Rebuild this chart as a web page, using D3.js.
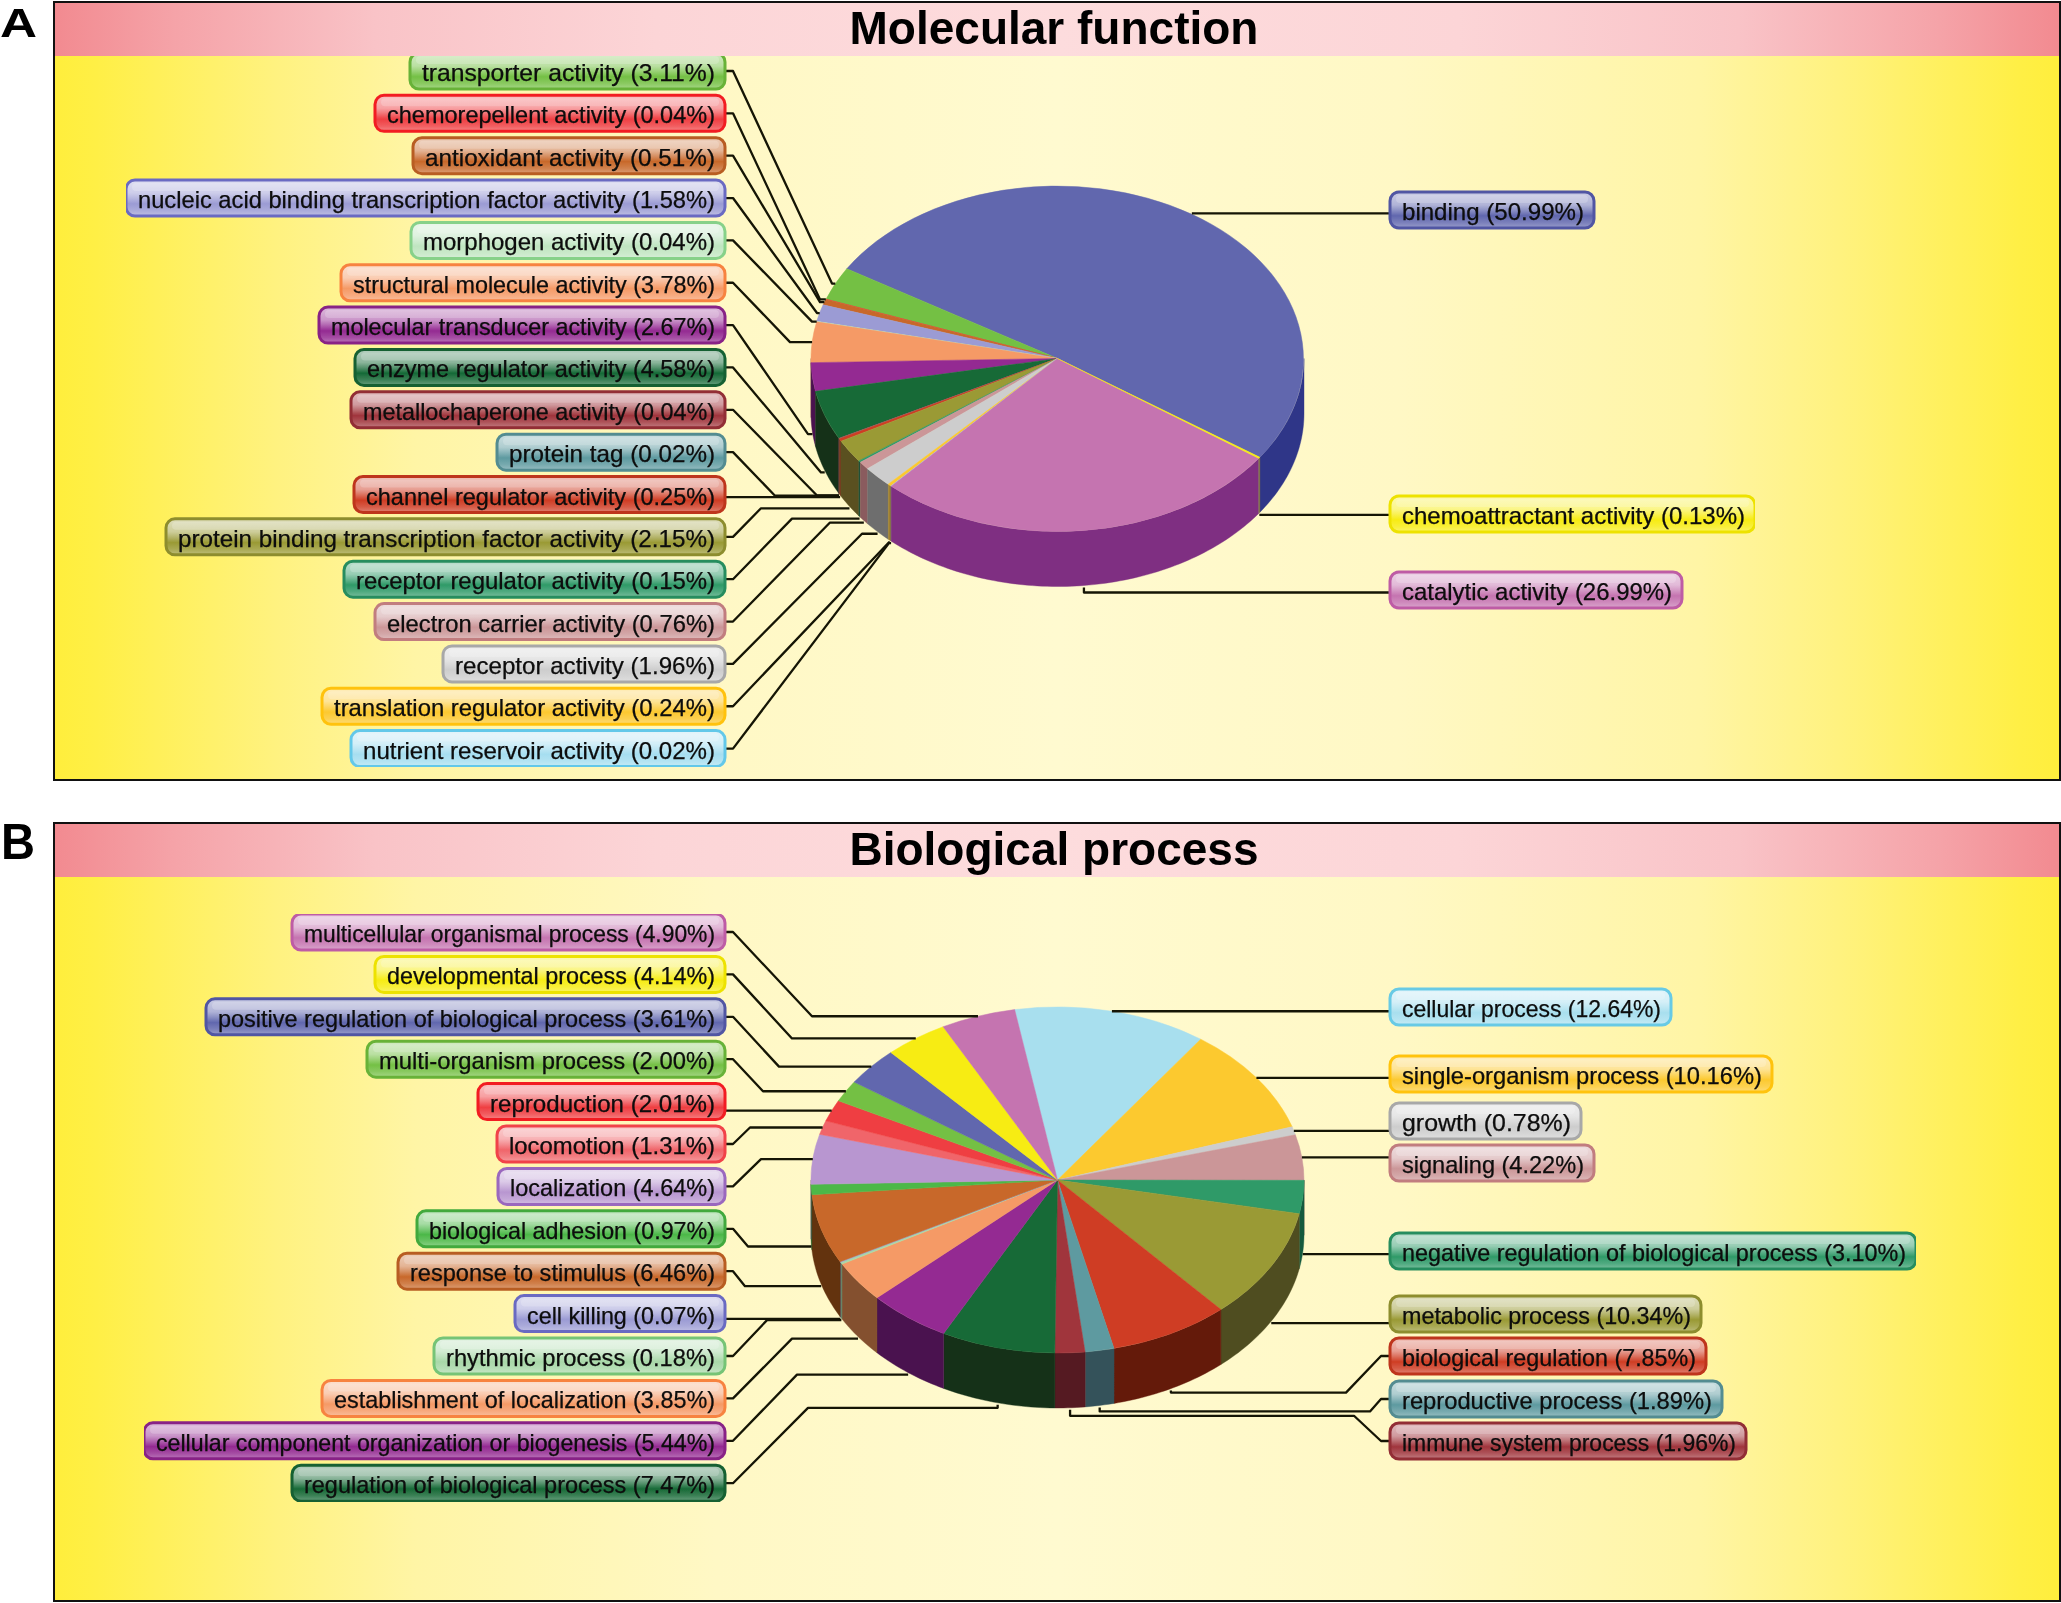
<!DOCTYPE html>
<html><head><meta charset="utf-8">
<script src="https://d3js.org/d3.v7.min.js"></script>
<style>html,body{margin:0;padding:0;background:#fff}svg{display:block}</style>
</head><body><svg id="c" width="2061" height="1603"></svg>
<script>
const mfCategories=["binding","transporter activity","chemorepellent activity","antioxidant activity","nucleic acid binding transcription factor activity","morphogen activity","structural molecule activity","molecular transducer activity","enzyme regulator activity","metallochaperone activity","protein tag","channel regulator activity","protein binding transcription factor activity","receptor regulator activity","electron carrier activity","receptor activity","translation regulator activity","nutrient reservoir activity","catalytic activity","chemoattractant activity"];
const mfValues=[50.99,3.11,0.04,0.51,1.58,0.04,3.78,2.67,4.58,0.04,0.02,0.25,2.15,0.15,0.76,1.96,0.24,0.02,26.99,0.13];
const mfColors=["#6167ae","#74c044","#ef3e42","#c8682a","#9b9bd4","#bfe5c0","#f59a66","#942a92","#176a37","#a0353c","#5e9aa0","#cf3d24","#9a9a35","#2f9a68","#cb9698","#cdcdcd","#fcc82f","#a6def0","#c574b0","#f7ec13"];
const mfWalls=["#2f3688","#3c6020","#772022","#7a3a20","#4e4e6a","#606e60","#84502f","#4a124f","#153118","#551a22","#34525a","#7a3a20","#5a5020","#185034","#8a5b5e","#6e6e6e","#a08030","#536f78","#7f2f82","#7c6e4a"];
const bpCategories=["cellular process","single-organism process","growth","signaling","negative regulation of biological process","metabolic process","biological regulation","reproductive process","immune system process","regulation of biological process","cellular component organization or biogenesis","establishment of localization","rhythmic process","cell killing","response to stimulus","biological adhesion","localization","locomotion","reproduction","multi-organism process","positive regulation of biological process","developmental process","multicellular organismal process"];
const bpValues=[12.64,10.16,0.78,4.22,3.10,10.34,7.85,1.89,1.96,7.47,5.44,3.85,0.18,0.07,6.46,0.97,4.64,1.31,2.01,2.00,3.61,4.14,4.90];
const bpColors=["#a8dfee","#fcc92f","#cdcdcd","#cb9698","#2f9a68","#9a9a35","#cf3d24","#5e9aa0","#a0353c","#176a37","#942a92","#f59a66","#a8d8a8","#9b9bd4","#c8682a","#4cb848","#b896d0","#f0656a","#ef3e42","#74c044","#6167ae","#f7ec13","#c574b0"];
const bpWalls=["#54707a","#7e6518","#666666","#654b4c","#155a3e","#4f4d20","#641a0a","#34525a","#551a22","#153118","#4a124f","#84502f","#6a8a6a","#4e4e6a","#63330e","#265c24","#5c4b68","#783234","#772022","#3c6020","#2f3688","#7c7609","#623858"];

// layout
const mfLeftBends=[832,820,820,817,812,790,808,821,817,775,null,761,792,830,862,889,889];
const bpLeftBends=[812,792,779,763,null,750,761,748,745,null,767,792,797,808];
const mfLeftWidths=[315,350,312,599,314,384,406,370,374,228,371,559,381,350,282,403,374];
const bpLeftWidths=[433,350,519,358,247,228,227,308,327,210,291,403,581,433];
const mfRightWidths=[204,365,292];
const bpRightWidths=[281,382,191,204,526,311,316,332,356];
const mfRightRows=[210,514,590];
const bpRightRows=[1007,1074,1121,1163,1251,1314,1356,1399,1441];
const mfRightBends=[null,null,null];
const bpRightBends=[null,null,null,null,null,null,1346,1370,1354];
const mfDrops={"catalytic activity":5};
const bpDrops={"regulation of biological process":3,"biological regulation":2,"reproductive process":4,"immune system process":6};

const panels=[
 {title:"Molecular function",letter:"A",letterSize:41,letterX:0,letterWidth:37,top:2,bottom:780,band:56,cy:358.5,cats:mfCategories,vals:mfValues,cols:mfColors,walls:mfWalls,
  start:34.8,dir:-1,leftRow0:71,leftPitch:42.35,leftBends:mfLeftBends,leftWidths:mfLeftWidths,rightWidths:mfRightWidths,rightRows:mfRightRows,rightBends:mfRightBends,drops:mfDrops,letterY:37},
 {title:"Biological process",letter:"B",letterSize:50,letterX:1,letterWidth:34,top:823,bottom:1601,band:877,cy:1180,cats:bpCategories,vals:bpValues,cols:bpColors,walls:bpWalls,
  start:-100,dir:1,leftRow0:932,leftPitch:42.4,leftBends:bpLeftBends,leftWidths:bpLeftWidths,rightWidths:bpRightWidths,rightRows:bpRightRows,rightBends:bpRightBends,drops:bpDrops,letterY:859}
];
const frameL=54,frameR=2060,cx=1057.5,rx=246.5,ry=173,depth=55,anchorDepth=57;
const boxH=36,boxLeftEdge=725,boxRightEdge=1390,stubL=733,stubR=1381;
const fontFamily='"Liberation Sans",Arial,sans-serif';
const svg=d3.select("#c");
const defs=svg.append("defs");
defs.append("filter").attr("id","soft").attr("x",0).attr("y",0).attr("width",1).attr("height",1)
 .append("feGaussianBlur").attr("stdDeviation",.4);
function hGrad(id,stops){const g=defs.append("linearGradient").attr("id",id).attr("x1",0).attr("x2",1).attr("y1",0).attr("y2",0);
 stops.forEach(s=>g.append("stop").attr("offset",s[0]).attr("stop-color",s[1]));}
hGrad("bgG",[[0,"#ffee3c"],[.02,"#ffef45"],[.11,"#fff27f"],[.18,"#fff5a5"],[.33,"#fff8c5"],[.5,"#fffad0"],[.67,"#fff8c5"],[.82,"#fff5a5"],[.89,"#fff27f"],[.98,"#ffef45"],[1,"#ffee3c"]]);
hGrad("bandG",[[0,"#f28a90"],[.06,"#f5a3a8"],[.16,"#f9c3c7"],[.3,"#fcd5d7"],[.5,"#fddcdd"],[.7,"#fcd5d7"],[.84,"#f9c3c7"],[.94,"#f5a3a8"],[1,"#f28a90"]]);
const white=(c,t)=>d3.interpolateRgb(c,"#fff")(t);
const borderOf=c=>{const h=d3.hsl(c);h.s=Math.min(1,h.s*1.05);h.l=h.l*(h.l>.7?.82:.9);return h.formatRgb();};
const rad=d=>d*Math.PI/180;

panels.forEach((p,pi)=>{
 const g=svg.append("g");
 g.append("rect").attr("x",frameL).attr("y",p.top).attr("width",frameR-frameL).attr("height",p.bottom-p.top).attr("fill","url(#bgG)");
 const startD3=rad(p.start+90);
 const pie=d3.pie().sort(null).startAngle(startD3).endAngle(startD3+p.dir*2*Math.PI);
 const arcs=pie(p.vals).map((a,i)=>({...a,i,name:p.cats[i],color:p.cols[i],wall:p.walls[i]}));
 const wallG=g.append("g");
 const line=d3.line();
 arcs.forEach(a=>{
  let t0=Math.min(a.startAngle,a.endAngle)-Math.PI/2, t1=Math.max(a.startAngle,a.endAngle)-Math.PI/2;
  [-2,0,2].forEach(k=>{
   const lo=Math.max(t0,k*Math.PI),hi=Math.min(t1,k*Math.PI+Math.PI);
   if(hi<=lo)return;
   const n=Math.max(2,Math.ceil((hi-lo)/0.02));
   const ts=d3.range(n+1).map(j=>lo+(hi-lo)*j/n);
   const pts=ts.map(t=>[cx+rx*Math.cos(t),p.cy+ry*Math.sin(t)]).concat(ts.slice().reverse().map(t=>[cx+rx*Math.cos(t),p.cy+ry*Math.sin(t)+depth]));
   wallG.append("path").attr("d",line(pts)+"Z").attr("fill",a.wall).attr("stroke",a.wall).attr("stroke-width",.4);
  });
 });
 const arc=d3.arc().innerRadius(0).outerRadius(1);
 g.append("g").attr("transform",`translate(${cx},${p.cy}) scale(${rx},${ry})`)
  .selectAll("path").data(arcs).join("path").attr("d",arc).attr("fill",d=>d.color)
  .attr("stroke",d=>d.color).attr("stroke-width",.5).attr("vector-effect","non-scaling-stroke");
 arcs.forEach(a=>{
  const t=(a.startAngle+a.endAngle)/2-Math.PI/2;
  a.theta=t;a.cos=Math.cos(t);a.sin=Math.sin(t);
  a.ax=cx+rx*a.cos;a.ay=p.cy+ry*a.sin+(a.sin>0?anchorDepth:0);
  a.ccwFromTop=(((-Math.PI/2-t)%(2*Math.PI))+2*Math.PI)%(2*Math.PI);
  a.cwFromTop=(((t+Math.PI/2)%(2*Math.PI))+2*Math.PI)%(2*Math.PI);
 });
 const left=arcs.filter(a=>a.cos<0).sort((a,b)=>a.ccwFromTop-b.ccwFromTop);
 const right=arcs.filter(a=>a.cos>=0).sort((a,b)=>a.cwFromTop-b.cwFromTop);
 left.forEach((a,i)=>{a.side="L";a.row=p.leftRow0+p.leftPitch*i;a.bend=p.leftBends[i];a.w=p.leftWidths[i];});
 right.forEach((a,i)=>{a.side="R";a.row=p.rightRows[i];a.bend=p.rightBends[i];a.w=p.rightWidths[i];});
 const labelled=left.concat(right);
 const leadG=g.append("g").attr("fill","none").attr("stroke","#151505").attr("stroke-width",2.3).attr("stroke-linejoin","round");
 labelled.forEach(a=>{
  const edge=a.side==="L"?boxLeftEdge:boxRightEdge, stub=a.side==="L"?stubL:stubR;
  const hy=a.ay+(p.drops[a.name]||0);
  const pts=a.bend==null?[[a.ax,a.ay],[a.ax,hy],[edge,hy]]
   :[[a.ax,a.ay],[a.ax,hy],[a.bend,hy],[stub,a.row],[edge,a.row]];
  leadG.append("path").attr("d",line(pts));
 });
 const fmt=d3.format(".2f");
 const labG=g.append("g").attr("filter","url(#soft)");
 labelled.forEach(a=>{
  const gid=`lab${pi}_${a.i}`;
  const lg=defs.append("linearGradient").attr("id",gid).attr("x1",0).attr("x2",0).attr("y1",0).attr("y2",1);
  [[0,white(a.color,.68)],[.36,white(a.color,.5)],[.5,white(a.color,.28)],[.66,a.color],[.84,white(a.color,.15)],[1,white(a.color,.35)]]
   .forEach(s=>lg.append("stop").attr("offset",s[0]).attr("stop-color",s[1]));
  const x=a.side==="L"?boxLeftEdge-a.w:boxRightEdge;
  const one=labG.append("g");
  one.append("rect").attr("x",x).attr("y",a.row-boxH/2).attr("width",a.w).attr("height",boxH).attr("rx",9)
   .attr("fill",`url(#${gid})`).attr("stroke",borderOf(a.color)).attr("stroke-width",3);
  one.append("rect").attr("x",x+6).attr("y",a.row-boxH/2+3).attr("width",a.w-12).attr("height",8).attr("rx",4).attr("fill","#fff").attr("opacity",.2);
  one.append("text").text(`${a.name} (${fmt(p.vals[a.i])}%)`)
   .attr("font-family",fontFamily).attr("font-size",24).attr("fill","#0b0b0b").attr("stroke","#0b0b0b").attr("stroke-width",.25)
   .attr("x",x+12).attr("y",a.row+10).attr("textLength",a.w-22).attr("lengthAdjust","spacingAndGlyphs");
 });
 g.append("rect").attr("x",frameL).attr("y",p.top).attr("width",frameR-frameL).attr("height",p.band-p.top).attr("fill","url(#bandG)");
 g.append("text").text(p.title).attr("x",1054).attr("y",p.band-12.5).attr("text-anchor","middle")
  .attr("font-family",fontFamily).attr("font-weight","bold").attr("font-size",46).attr("fill","#000");
 g.append("rect").attr("x",frameL).attr("y",p.top).attr("width",frameR-frameL).attr("height",p.bottom-p.top).attr("fill","none").attr("stroke","#111").attr("stroke-width",2);
 g.append("text").text(p.letter).attr("x",p.letterX).attr("y",p.letterY).attr("font-family",fontFamily).attr("font-weight","bold").attr("font-size",p.letterSize).attr("fill","#000")
  .attr("textLength",p.letterWidth).attr("lengthAdjust","spacingAndGlyphs");
});
</script></body></html>
